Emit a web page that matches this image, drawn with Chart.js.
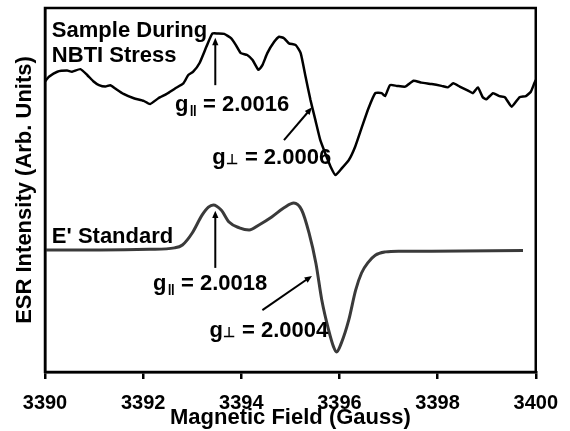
<!DOCTYPE html>
<html>
<head>
<meta charset="utf-8">
<script src="https://cdn.jsdelivr.net/npm/chart.js@4"></script>
<style>
  html, body { margin: 0; padding: 0; background: #fff; }
  canvas { display: block; }
</style>
</head>
<body>
<canvas id="esrChart" width="570" height="431"></canvas>
<script>
// magnetic field (Gauss) and intensity (arb. units)
const stressField = [
  3390.00, 3390.08, 3390.25, 3390.45, 3390.55, 3390.72, 3390.86, 3390.99, 3391.10, 3391.23,
  3391.33, 3391.43, 3391.60, 3391.81, 3392.01, 3392.14, 3392.31, 3392.48, 3392.65, 3392.82,
  3392.92, 3393.02, 3393.15, 3393.29, 3393.41, 3393.52, 3393.65, 3393.79, 3393.89, 3393.99,
  3394.12, 3394.23, 3394.35, 3394.43, 3394.53, 3394.67, 3394.77, 3394.87, 3394.97, 3395.11,
  3395.21, 3395.31, 3395.41, 3395.51, 3395.61, 3395.71, 3395.82, 3395.92, 3396.05, 3396.19,
  3396.32, 3396.46, 3396.59, 3396.73, 3396.86, 3396.93, 3397.03, 3397.17, 3397.34, 3397.51,
  3397.67, 3397.88, 3398.08, 3398.21, 3398.32, 3398.45, 3398.62, 3398.72, 3398.82, 3398.92,
  3398.99, 3399.13, 3399.26, 3399.37, 3399.51, 3399.67, 3399.80, 3399.90, 3399.97, 3400.00
];
const stressIntensity = [
  79.8, 81.1, 82.5, 82.8, 82.5, 83.2, 81.6, 79.8, 78.8, 78.4,
  78.8, 77.9, 76.4, 75.2, 74.5, 73.6, 75.2, 76.4, 77.9, 79.3,
  81.6, 82.5, 84.9, 89.4, 93.0, 93.0, 92.9, 91.7, 89.8, 87.6,
  87.1, 85.7, 83.0, 84.3, 87.6, 90.7, 92.1, 91.7, 90.3, 89.8,
  87.6, 81.1, 74.7, 69.2, 63.7, 60.1, 56.4, 54.1, 56.0, 58.2,
  61.9, 67.4, 72.4, 76.6, 76.6, 75.8, 78.8, 78.6, 78.4, 80.0,
  79.5, 79.1, 78.6, 78.2, 79.3, 78.4, 77.3, 76.6, 78.2, 75.5,
  74.9, 76.6, 75.8, 75.5, 72.9, 75.5, 75.8, 77.0, 79.3, 80.2
];

const standardField = [
  3390.00, 3391.12, 3392.13, 3392.64, 3392.80, 3393.00, 3393.20, 3393.33, 3393.43, 3393.59,
  3393.75, 3393.96, 3394.16, 3394.36, 3394.62, 3394.87, 3395.07, 3395.23, 3395.38, 3395.52,
  3395.64, 3395.78, 3395.88, 3395.94, 3396.04, 3396.19, 3396.33, 3396.45, 3396.59, 3396.73,
  3396.94, 3397.20, 3397.87, 3399.74
];
const standardIntensity = [
  33.5, 33.5, 33.7, 34.1, 34.9, 38.2, 43.1, 45.3, 45.9, 44.5,
  41.2, 39.6, 39.0, 40.4, 42.6, 45.1, 46.4, 44.5, 38.2, 29.9,
  19.8, 11.5, 6.9, 5.5, 8.0, 14.3, 22.5, 27.2, 30.2, 32.1,
  33.0, 33.2, 33.2, 33.4
];

const xTicks = [3390, 3392, 3394, 3396, 3398, 3400];

const FONT = '"Liberation Sans", Arial, Helvetica, sans-serif';

function toPoints(xs, ys) {
  return xs.map((x, i) => ({ x: x, y: ys[i] }));
}

// frame, labels and arrows drawn on top of the plot
const annotationPlugin = {
  id: "annotations",
  afterDraw: function (chart) {
    const ctx = chart.ctx;
    const xs = chart.scales.x;
    const ys = chart.scales.y;
    const px = (v) => xs.getPixelForValue(v);
    const py = (v) => ys.getPixelForValue(v);
    const area = chart.chartArea;

    ctx.save();
    // box around the plot
    ctx.strokeStyle = "#000";
    ctx.lineWidth = 2.5;
    ctx.strokeRect(area.left, area.top, area.right - area.left, area.bottom - area.top);

    ctx.fillStyle = "#000";
    ctx.textBaseline = "alphabetic";
    ctx.textAlign = "left";
    ctx.font = "bold 22px " + FONT;
    ctx.fillText("Sample During", px(3390.14), py(91.9));
    ctx.fillText("NBTI Stress", px(3390.14), py(85.2));
    ctx.fillText("E' Standard", px(3390.14), py(35.4));

    drawG(ctx, px(3392.65), py(71.8), "\u2016", "2.0016");
    drawG(ctx, px(3393.41), py(57.1), "\u22A5", "2.0006");
    drawG(ctx, px(3392.20), py(22.5), "\u2016", "2.0018");
    drawG(ctx, px(3393.35), py(9.75), "\u22A5", "2.0004");

    arrow(ctx, px(3393.47), py(78.8), px(3393.47), py(91.8));
    arrow(ctx, px(3394.87), py(63.7), px(3395.44), py(72.7));
    arrow(ctx, px(3393.47), py(28.6), px(3393.47), py(44.3));
    arrow(ctx, px(3394.43), py(17.0), px(3395.44), py(26.4));
    ctx.restore();
  },
};

function drawG(ctx, x, y, sub, value) {
  ctx.font = "bold 22px " + FONT;
  ctx.fillText("g", x, y);
  let cx = x + ctx.measureText("g").width + 1;
  if (sub === "\u2016") {
    ctx.font = "bold 15px " + FONT;
    ctx.fillText(sub, cx, y + 5);
  } else {
    ctx.font = "bold 14px " + FONT;
    ctx.fillText(sub, cx - 1, y);
  }
  cx += ctx.measureText(sub).width;
  ctx.font = "bold 22px " + FONT;
  ctx.fillText(" = " + value, cx, y);
}

function arrow(ctx, x0, y0, x1, y1) {
  const ang = Math.atan2(y1 - y0, x1 - x0);
  const head = 8;
  ctx.strokeStyle = "#000";
  ctx.lineWidth = 2;
  ctx.beginPath();
  ctx.moveTo(x0, y0);
  ctx.lineTo(x1 - Math.cos(ang) * head * 0.8, y1 - Math.sin(ang) * head * 0.8);
  ctx.stroke();
  ctx.beginPath();
  ctx.moveTo(x1, y1);
  ctx.lineTo(x1 - head * Math.cos(ang - 0.4), y1 - head * Math.sin(ang - 0.4));
  ctx.lineTo(x1 - head * Math.cos(ang + 0.4), y1 - head * Math.sin(ang + 0.4));
  ctx.closePath();
  ctx.fill();
}

const chart = new Chart(document.getElementById("esrChart").getContext("2d"), {
  type: "line",
  data: {
    datasets: [
      {
        label: "Sample During NBTI Stress",
        data: toPoints(stressField, stressIntensity),
        borderColor: "#000",
        borderWidth: 2.5,
        pointRadius: 0,
        tension: 0.15,
        borderJoinStyle: "round",
      },
      {
        label: "E' Standard",
        data: toPoints(standardField, standardIntensity),
        borderColor: "#3a3a3a",
        borderWidth: 3,
        pointRadius: 0,
        cubicInterpolationMode: "monotone",
      },
    ],
  },
  options: {
    responsive: false,
    animation: false,
    layout: { padding: { top: 8, right: 32, left: 0, bottom: 0 } },
    plugins: {
      legend: { display: false },
      tooltip: { enabled: false },
    },
    scales: {
      x: {
        type: "linear",
        min: 3390,
        max: 3400,
        afterBuildTicks: (scale) => {
          scale.ticks = xTicks.map((v) => ({ value: v }));
        },
        afterFit: (scale) => {
          scale.height = 59;
        },
        ticks: {
          color: "#000",
          font: { family: FONT, size: 20, weight: "bold" },
          padding: 12,
          maxRotation: 0,
          callback: (v) => String(v),
        },
        grid: {
          drawOnChartArea: false,
          drawTicks: true,
          tickLength: 7,
          lineWidth: 2.5,
          color: "#000",
        },
        border: { display: true, width: 2.5, color: "#000" },
        title: {
          display: true,
          text: "Magnetic Field (Gauss)",
          color: "#000",
          font: { family: FONT, size: 22, weight: "bold" },
          padding: { top: 0, bottom: 0 },
        },
      },
      y: {
        min: 0,
        max: 100,
        afterFit: (scale) => {
          scale.width = 45;
        },
        ticks: { display: false },
        grid: { display: false },
        border: { display: true, width: 2.5, color: "#000" },
        title: {
          display: true,
          text: "ESR Intensity (Arb. Units)",
          color: "#000",
          font: { family: FONT, size: 22, weight: "bold" },
          padding: { top: 12, bottom: 0 },
        },
      },
    },
  },
  plugins: [annotationPlugin],
});
</script>
</body>
</html>
